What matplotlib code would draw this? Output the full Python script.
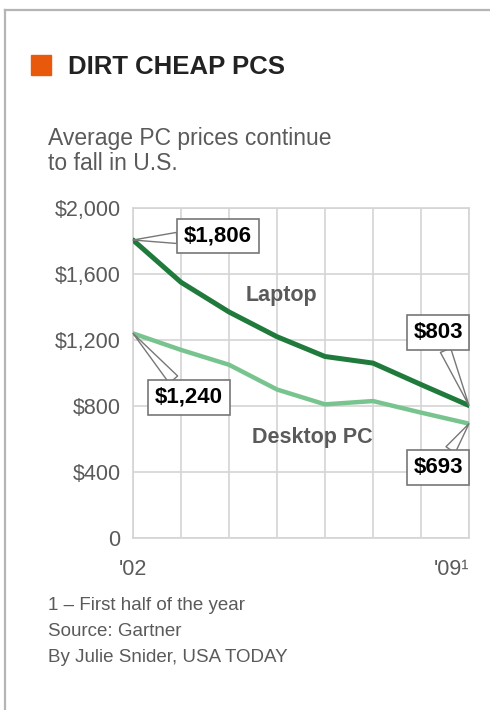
import numpy as np
import matplotlib.pyplot as plt
from matplotlib.lines import Line2D
from matplotlib.patches import Rectangle

# data ------------------------------------------------------------------------
years   = [2002, 2003, 2004, 2005, 2006, 2007, 2008, 2009]
laptop  = [1806, 1550, 1370, 1220, 1100, 1060, 930, 803]
desktop = [1240, 1140, 1050, 900, 810, 830, 760, 693]

yticks      = [0, 400, 800, 1200, 1600, 2000]
ytick_lbls  = ["0", "$400", "$800", "$1,200", "$1,600", "$2,000"]
xtick_lbls  = ["'02", "", "", "", "", "", "", "'09\u00b9"]

title    = "DIRT CHEAP PCS"
subtitle = "Average PC prices continue\nto fall in U.S."
notes    = ["1 \u2013 First half of the year", "Source: Gartner",
            "By Julie Snider, USA TODAY"]

# style -----------------------------------------------------------------------
plt.rcParams['font.family'] = ['Liberation Sans', 'DejaVu Sans']
c_lap   = '#1f7a3c'
c_desk  = '#78c48f'
c_grid  = '#d4d4d4'
c_txt   = '#5a5a5a'

fig = plt.figure(figsize=(4.9, 7.1), dpi=100)
W, H = 490, 710

# outer frame (left and top only)
fig.add_artist(Line2D([5/W, 5/W], [0, 1-10/H], color='#b5b5b5', lw=1.6,
                      transform=fig.transFigure))
fig.add_artist(Line2D([5/W, 1], [1-10/H, 1-10/H], color='#b5b5b5', lw=1.6,
                      transform=fig.transFigure))

# header
fig.add_artist(Rectangle((31/W, 1-75/H), 20/W, 20/H, color='#e8590c',
                         transform=fig.transFigure))
fig.text(68/W, 1-67/H, title, fontsize=18.5, fontweight='bold', color='#222222',
         va='center', ha='left')
fig.text(48/W, 1-138/H, subtitle.split("\n")[0], fontsize=16.5, color=c_txt,
         va='center', ha='left')
fig.text(48/W, 1-163/H, subtitle.split("\n")[1], fontsize=16.5, color=c_txt,
         va='center', ha='left')

# axes
ax = fig.add_axes([133/W, 1-538/H, (469-133)/W, (538-208)/H])
ax.plot(years, desktop, color=c_desk, lw=3.2, solid_capstyle='round',
        solid_joinstyle='round', zorder=3)
ax.plot(years, laptop, color=c_lap, lw=3.6, solid_capstyle='round',
        solid_joinstyle='round', zorder=4)

ax.set_xlim(years[0], years[-1])
ax.set_ylim(yticks[0], yticks[-1])
ax.set_xticks(years)
ax.set_xticklabels(xtick_lbls)
ax.set_yticks(yticks)
ax.set_yticklabels(ytick_lbls)
ax.tick_params(length=0, labelsize=15.5, labelcolor=c_txt)
ax.tick_params(axis='y', pad=9)
ax.tick_params(axis='x', pad=15)
lbl = ax.xaxis.get_ticklabels()[-1]
lbl.set_horizontalalignment('right')
ax.grid(True, color=c_grid, lw=1.2)
ax.set_axisbelow(True)
for s in ax.spines.values():
    s.set_color(c_grid)
    s.set_linewidth(1.2)

# series labels
ax.text(2005.1, 1467, "Laptop", fontsize=15.5, fontweight='bold', color=c_txt,
        ha='center', va='center')
ax.text(2005.73, 612, "Desktop PC", fontsize=15.5, fontweight='bold',
        color=c_txt, ha='center', va='center')

# callouts
def callout(x, y, offset):
    ax.annotate("${:,}".format(y), xy=(x, y), xytext=offset,
                textcoords='offset pixels', fontsize=16, fontweight='bold',
                color='black', ha='center', va='center', zorder=6,
                bbox=dict(boxstyle='square,pad=0.3', fc='white', ec='#777777',
                          lw=1.2),
                arrowprops=dict(arrowstyle='wedge,tail_width=0.5',
                                fc='white', ec='#777777', lw=1.0,
                                shrinkA=0, shrinkB=0))

callout(years[0], laptop[0], (85, 4))
callout(years[0], desktop[0], (56, -64))
callout(years[-1], laptop[-1], (-31, 73))
callout(years[-1], desktop[-1], (-31, -44))

# footnotes
for i, n in enumerate(notes):
    fig.text(48/W, 1-(605+26.5*i)/H, n, fontsize=13.5, color=c_txt,
             va='center', ha='left')

fig.savefig("out.png", dpi=100)
